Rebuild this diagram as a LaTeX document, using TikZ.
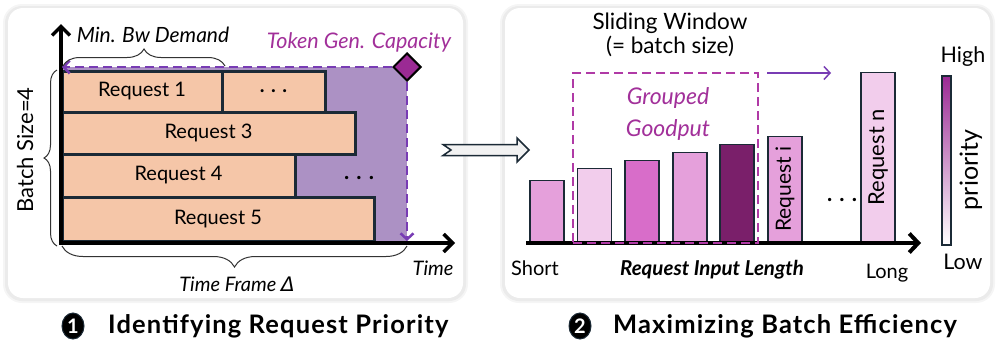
\documentclass[tikz,border=0pt]{standalone}
\usepackage{fontspec}
\setmainfont{Lato}
\newfontfamily\djfont{DejaVu Sans}
\newfontfamily\titlefont[LetterSpace=4.5]{Lato}
\usetikzlibrary{arrows.meta,decorations.pathreplacing,shapes.geometric,calc}
\definecolor{peach}{RGB}{245,198,168}
\definecolor{navy}{RGB}{27,42,54}
\definecolor{lav}{RGB}{172,145,196}
\definecolor{vio}{RGB}{120,60,180}
\definecolor{mag}{RGB}{162,48,154}
\definecolor{dia}{RGB}{155,42,148}
\definecolor{pA}{RGB}{229,160,219}
\definecolor{pB}{RGB}{242,205,236}
\definecolor{pC}{RGB}{216,109,201}
\definecolor{pD}{RGB}{122,31,106}
\definecolor{boxmag}{RGB}{176,58,166}
\newcommand{\myfs}[1]{\fontsize{#1}{#1}\selectfont}
\begin{document}
\begin{tikzpicture}[x=1pt,y=-1pt,
  shadowA/.style={fill=black!4, rounded corners=19pt},
  shadowB/.style={fill=black!8, rounded corners=17pt},
  panel/.style={fill=white, rounded corners=15pt},
  reqbox/.style={draw=navy, line width=3pt, fill=peach, inner sep=0, font=\myfs{20}},
  lbl/.style={inner sep=0, font=\myfs{20}},
  ilbl/.style={inner sep=0, font=\myfs{20}\itshape},
  mybrace/.style={decorate, decoration={brace, amplitude=#1}, line width=1pt, black!80},
  vdash/.style={draw=vio, line width=2.5pt, dash pattern=on 9pt off 5pt},
  axisL/.style={line width=3.5pt, -{Straight Barb[length=9pt,width=18pt]}},
  bar/.style={draw=navy, line width=1.5pt, anchor=south, minimum width=34pt, inner sep=0},
  dots/.style={inner sep=0, font=\myfs{22}\bfseries},
  title/.style={inner sep=0, anchor=west, font=\titlefont\myfs{25.5}\bfseries},
  numc/.style={ellipse, fill=black, draw=navy, line width=1pt, inner sep=0, minimum width=22pt, minimum height=26pt, text=white, font=\myfs{20}\bfseries}
]
\useasboundingbox (0,0) rectangle (998,354);
% panels
\fill[shadowA] (3,4) rectangle (468,303);
\fill[shadowB] (5,6) rectangle (466,301);
\fill[panel] (8,8) rectangle (463,298);
\fill[shadowA] (500,4) rectangle (995,303);
\fill[shadowB] (502,6) rectangle (993,301);
\fill[panel] (505,8) rectangle (990,298);

% ---------- left panel ----------
\fill[lav] (62,67) rectangle (407,242);
\node[reqbox, minimum width=160pt, minimum height=41pt] (r1) at (142,91.5) {Request 1};
\node[reqbox, minimum width=103pt, minimum height=41pt, font=\myfs{20}\bfseries] (r2) at (273.5,91.5) {. . .};
\node[reqbox, minimum width=293pt, minimum height=42pt] (r3) at (208.5,133) {Request 3};
\node[reqbox, minimum width=233pt, minimum height=43pt] (r4) at (178.5,175.5) {Request 4};
\node[reqbox, minimum width=312pt, minimum height=44pt] (r5) at (218,219) {Request 5};
\node[dots] (ld) at (359,178) {. . .};

\coordinate (O) at (61,244.5);
\coordinate (Ytip) at (61,24);
\coordinate (Xtip) at (455,243);
\draw[axisL] (O) -- (Ytip);
\draw[axisL] (59.5,243) -- (Xtip);

\node[diamond, fill=dia, draw=black, line width=2pt, minimum size=28pt, inner sep=0] (cap) at (407,67) {};
\coordinate (tl) at (62,67);
\coordinate (br) at (407,241);
\draw[vdash, -{Straight Barb[length=6pt,width=13pt]}] (cap.west) -- (tl);
\draw[vdash, -{Straight Barb[length=6pt,width=13pt]}] (cap.south) -- (br);

\draw[mybrace=17pt] (63,66) -- (225,66);
\draw[mybrace=13pt] (57,246) -- (57,70);
\draw[mybrace=21pt] (407,246) -- (62,246);

\node[ilbl, font=\myfs{21}\itshape] (bw) at (153,35) {Min. Bw Demand};
\node[ilbl, text=mag, font=\myfs{21.5}\itshape] (tg) at (359,42) {Token Gen. Capacity};
\node[lbl, rotate=90, font=\myfs{22}] (bs) at (25,150) {Batch Size=4};
\node[ilbl] (tf) at (237,284) {Time Frame {\djfont\itshape Δ}};
\node[ilbl] (tm) at (433,268) {Time};

% ---------- transition arrow ----------
\draw[fill=black!5, draw=navy, line width=1.5pt, line join=miter]
  (443,144.5) -- (517,144.5) -- (517,138) -- (529,150) -- (517,162) -- (517,155.5) -- (443,155.5) -- (451,150) -- cycle;

% ---------- right panel ----------
\node[lbl, align=center, font=\fontsize{22.5}{24}\selectfont] (sw) at (670,35) {Sliding Window\\(= batch size)};
\node[ilbl, align=center, text=mag, font=\fontsize{23}{32}\selectfont\itshape] (gg) at (668,114) {Grouped\\Goodput};

\node[bar, fill=pA, minimum height=62pt] (b1) at (547,243) {};
\node[bar, fill=pB, minimum height=74pt] (b2) at (594.5,243) {};
\node[bar, fill=pC, minimum height=82pt] (b3) at (642,243) {};
\node[bar, fill=pA, minimum height=90pt] (b4) at (690,243) {};
\node[bar, fill=pD, minimum height=98pt] (b5) at (737,243) {};
\node[bar, fill=pA, minimum height=106pt] (b6) at (785,243) {};
\node[bar, fill=pB, minimum height=170pt] (b7) at (878,243) {};
\node[lbl, rotate=90, font=\myfs{21}] (b6t) at (b6.center) {Request i};
\node[lbl, rotate=90, font=\myfs{22}] (b7t) at (b7.center) {Request n};
\node[dots] (rd) at (842,200) {. . .};

\coordinate (ra) at (526,243);
\coordinate (rb) at (921,243);
\draw[line width=4pt, -{Straight Barb[length=9pt,width=19pt]}] (ra) -- (rb);

\node[draw=boxmag, line width=2.5pt, dash pattern=on 9pt off 5pt, minimum width=185pt, minimum height=170pt, inner sep=0] (win) at (665.5,158) {};
\coordinate (wa) at (767,73);
\coordinate (wb) at (831,73);
\draw[vio, line width=1.5pt, -{Straight Barb[length=6pt,width=13pt]}] (wa) -- (wb);

\node[lbl] (sh) at (535,268) {Short};
\node[ilbl, font=\myfs{20.5}\itshape\bfseries] (ril) at (712,270) {Request Input Length};
\node[lbl] (lg) at (887,273) {Long};

\node[minimum width=9pt, minimum height=169pt, inner sep=0, top color=dia, bottom color=white, draw=navy, line width=1.2pt] (cbar) at (946.5,160.5) {};
\node[lbl, font=\myfs{21.5}] (hi) at (963,57) {High};
\node[lbl, font=\myfs{21.5}] (lo) at (963,262) {Low};
\node[lbl, rotate=90, font=\myfs{25}] (pr) at (971,170) {priority};

% ---------- titles ----------
\node[numc] (n1) at (73,326) {1};
\node[title] (t1) at (108,326) {Identifying Request Priority};
\node[numc] (n2) at (580,326) {2};
\node[title] (t2) at (613,326) {Maximizing Batch Efficiency};
\end{tikzpicture}
\end{document}
